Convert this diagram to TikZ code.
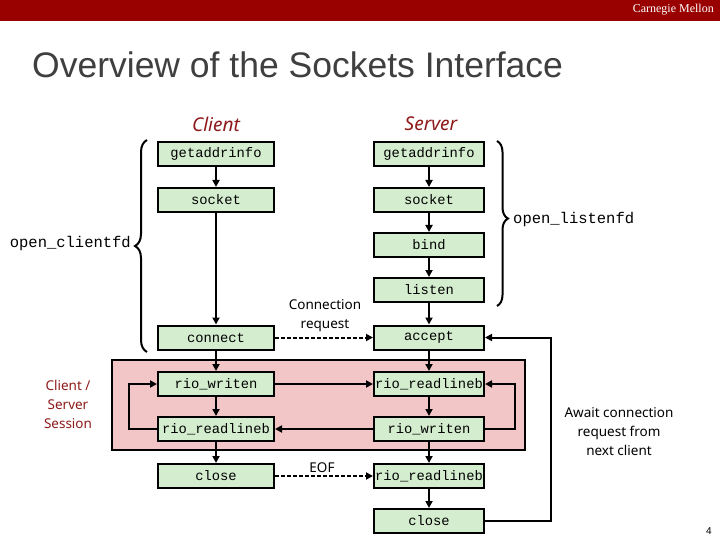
\documentclass[tikz,border=0pt]{standalone}
\usepackage{fontspec}
\setmainfont{Liberation Sans}
\newfontfamily\monofont{Liberation Mono}
\newfontfamily\labfont{Noto Sans}
\newfontfamily\serfont{Liberation Serif}
\usetikzlibrary{arrows.meta,decorations.pathreplacing}
\definecolor{barred}{HTML}{990000}
\definecolor{boxgreen}{HTML}{D3EDCE}
\definecolor{sesspink}{HTML}{F2C6C7}
\definecolor{headred}{HTML}{8E1B1B}
\definecolor{titlegray}{HTML}{3F3F3F}
\begin{document}
\begin{tikzpicture}[x=1pt,y=-1pt,
  fn/.style={draw=black,line width=2pt,fill=boxgreen,minimum height=24pt,inner sep=0pt,
    font=\monofont\fontsize{13.8}{16}\selectfont},
  cbox/.style={fn,minimum width=116pt},
  sbox/.style={fn,minimum width=110pt},
  flow/.style={line width=2pt,-{Triangle[length=7pt,width=7pt]}},
  dflow/.style={flow,dash pattern=on 4pt off 2pt},
  brc/.style={line width=2pt,decorate},
  lab/.style={font=\labfont\fontsize{13.5}{19}\selectfont,align=center,inner sep=0pt},
  head/.style={font=\labfont\itshape\fontsize{19}{22}\selectfont,text=headred,inner sep=0pt},
  fdname/.style={font=\monofont\fontsize{15.5}{18}\selectfont,inner sep=0pt}
]
\useasboundingbox (0,0) rectangle (720,540);
\fill[white] (0,0) rectangle (720,540);
% top bar
\fill[barred] (0,0) rectangle (720,21);
\node[anchor=east,text=white,font=\serfont\fontsize{12}{14}\selectfont,inner sep=0pt] (cmu) at (714,9.5) {Carnegie Mellon};
% title
\node[anchor=base west,text=titlegray,font=\fontsize{35.5}{40}\selectfont,inner sep=0pt] (title) at (32,78) {Overview of the Sockets Interface};
% headings
\node[head] (hc) at (216,124) {Client};
\node[head] (hs) at (431,124) {Server};
% session area
\draw[fill=sesspink,line width=2pt] (112,360) rectangle (525,450);
% client column
\node[cbox] (cg) at (216,154) {getaddrinfo};
\node[cbox] (cs) at (216,200) {socket};
\node[cbox] (cc) at (216,337.5) {connect};
\node[cbox] (cw) at (216,384) {rio\_writen};
\node[cbox] (cr) at (216,429) {rio\_readlineb};
\node[cbox] (ccl) at (216,476) {close};
% server column
\node[sbox] (sg) at (429,154) {getaddrinfo};
\node[sbox] (ss) at (429,200) {socket};
\node[sbox] (sb) at (429,245) {bind};
\node[sbox] (sl) at (429,290) {listen};
\node[sbox] (sa) at (429,337.5) {accept};
\node[sbox] (sr) at (429,384) {rio\_readlineb};
\node[sbox] (sw) at (429,429) {rio\_writen};
\node[sbox] (sr2) at (429,476) {rio\_readlineb};
\node[sbox] (scl) at (429,521) {close};
% vertical flows
\draw[flow] (cg) -- (cs);
\draw[flow] (cs) -- (cc);
\draw[flow] (cc) -- (cw);
\draw[flow] (cw) -- (cr);
\draw[flow] (cr) -- (ccl);
\draw[flow] (sg) -- (ss);
\draw[flow] (ss) -- (sb);
\draw[flow] (sb) -- (sl);
\draw[flow] (sl) -- (sa);
\draw[flow] (sa) -- (sr);
\draw[flow] (sr) -- (sw);
\draw[flow] (sw) -- (sr2);
\draw[flow] (sr2) -- (scl);
% horizontal flows
\draw[dflow] (cc.east) -- (sa.west);
\draw[flow] (cw.east) -- (sr.west);
\draw[flow] (sw.west) -- (cr.east);
\draw[dflow] (ccl.east) -- (sr2.west);
% loops
\draw[flow] (cr.west) -- ++(-28,0) |- (cw.west);
\draw[flow] (sw.east) -- ++(30,0) |- (sr.east);
\draw[flow] (scl.east) -- ++(66,0) |- (sa.east);
% labels
\node[lab] (creq) at (325,315.5) {Connection\\request};
\node[lab] (eof) at (322,468) {EOF};
\node[lab,text=headred] (sess) at (68,404.5) {Client /\\Server\\Session};
\node[lab] (await) at (619,432) {Await connection\\request from\\next client};
% braces
\draw[brc,decoration={brace,amplitude=12pt}] (147,352) -- (147,140);
\node[fdname,anchor=east] (ocfd) at (131,243) {open\_clientfd};
\draw[brc,decoration={brace,amplitude=11pt,aspect=0.47}] (497,141) -- (497,306);
\node[fdname,anchor=west] (olfd) at (513,219) {open\_listenfd};
% page number
\node[font=\fontsize{10}{12}\selectfont,inner sep=0pt] (pg) at (709,531) {4};
\end{tikzpicture}
\end{document}
